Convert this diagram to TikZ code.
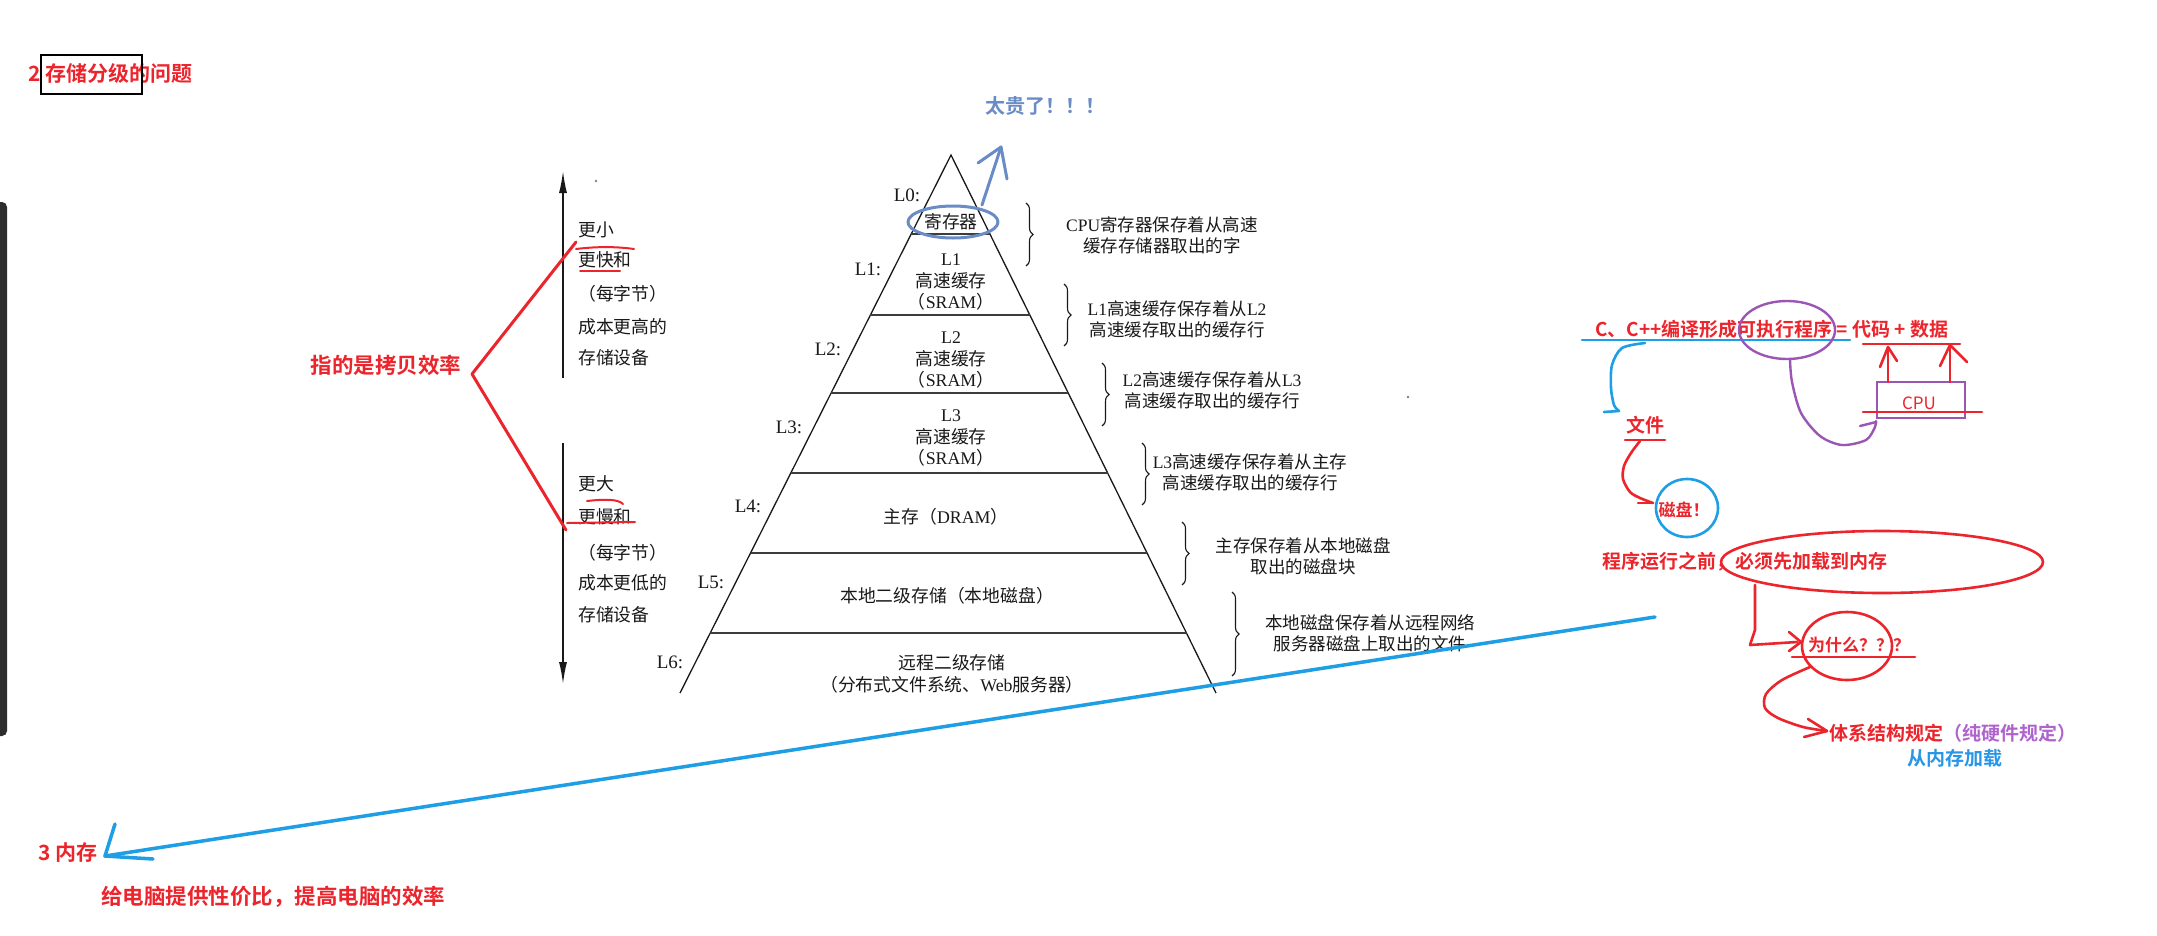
\documentclass[tikz,border=0pt]{standalone}
\usepackage{fontspec}
\usetikzlibrary{decorations.pathreplacing,arrows.meta}
\newfontfamily\hwr{Noto Sans CJK SC}
\newfontfamily\hwb{Noto Sans CJK SC Bold}
\newfontfamily\bkf{Noto Sans CJK SC}
\newfontfamily\ltf{Liberation Serif}
\newcommand{\lt}[1]{{\ltf #1}}
\definecolor{hred}{RGB}{236,36,44}
\definecolor{hblue}{RGB}{30,158,228}
\definecolor{tblue}{RGB}{40,150,230}
\definecolor{sblue}{RGB}{105,140,198}
\definecolor{hpurple}{RGB}{155,85,180}
\definecolor{lpurple}{RGB}{175,100,205}
\definecolor{ink}{RGB}{25,25,25}
\definecolor{barc}{RGB}{45,45,45}
\tikzset{
  booktxt/.style={font=\bkf\fontsize{17.8}{21.5}\selectfont, text=ink, inner sep=0pt},
  desc/.style={font=\bkf\fontsize{17.5}{21}\selectfont, text=ink, inner sep=0pt, align=center},
  lvl/.style={font=\ltf\fontsize{19}{19}\selectfont, text=ink, inner sep=0pt},
  handtxt/.style={font=\hwb\fontsize{#1}{#1}\selectfont, text=hred, inner sep=0pt},
  redpen/.style={draw=hred, line width=2.6pt, line cap=round, line join=round},
  bluepen/.style={draw=hblue, line width=2.6pt, line cap=round, line join=round},
  purplepen/.style={draw=hpurple, line width=2.4pt, line cap=round, line join=round},
  steelpen/.style={draw=sblue, line width=3pt, line cap=round, line join=round},
  pyr/.style={draw=ink, line width=1.3pt},
  sepline/.style={draw=ink!85, line width=1.8pt},
  bracestyle/.style={draw=ink, line width=1.1pt, decorate, decoration={brace, amplitude=7pt}},
  scalearrow/.style={draw=ink, line width=1.5pt, -{Latex[length=22pt,width=8pt]}},
  cpubox/.style={draw=hpurple, line width=2.4pt, minimum width=88pt, minimum height=36pt, inner sep=0pt},
}
\begin{document}
\begin{tikzpicture}[x=1pt,y=-1pt]
\useasboundingbox (0,0) rectangle (2157,935);
\fill[white] (0,0) rectangle (2157,935);
% left dark bar
\fill[barc, rounded corners=5pt] (-12,202) rectangle (7,736);

% title
\node[handtxt=21, anchor=west] (title) at (28,73) {2 存储分级的问题};
\draw[line width=2.5pt] (41,55) rectangle (142,94);

% pyramid
\coordinate (apex) at (951,155);
\coordinate (bl) at (680,693);
\coordinate (br) at (1216,693);
\draw[pyr] (bl) -- (apex) -- (br);
\draw[sepline] (911.2,234) -- (989.9,234);
\draw[sepline] (870.4,315) -- (1029.8,315);
\draw[sepline] (831.1,393) -- (1068.2,393);
\draw[sepline] (790.8,473) -- (1107.6,473);
\draw[sepline] (750.5,553) -- (1147.1,553);
\draw[sepline] (710.2,633) -- (1186.5,633);

\node[booktxt] (reg) at (951,222) {寄存器};
\node[booktxt, align=center] (l1) at (951,282) {\lt{L1}\\高速缓存\\（\lt{SRAM}）};
\node[booktxt, align=center] (l2) at (951,360) {\lt{L2}\\高速缓存\\（\lt{SRAM}）};
\node[booktxt, align=center] (l3) at (951,438) {\lt{L3}\\高速缓存\\（\lt{SRAM}）};
\node[booktxt] (l4) at (946,517) {主存（\lt{DRAM}）};
\node[booktxt] (l5) at (947,596) {本地二级存储（本地磁盘）};
\node[booktxt, align=center] (l6) at (952,674) {远程二级存储\\（分布式文件系统、\lt{Web}服务器）};

\node[lvl] (L0) at (907,195) {L0:};
\node[lvl] (L1) at (868,269) {L1:};
\node[lvl] (L2) at (828,349) {L2:};
\node[lvl] (L3) at (789,427) {L3:};
\node[lvl] (L4) at (748,506) {L4:};
\node[lvl] (L5) at (711,582) {L5:};
\node[lvl] (L6) at (670,662) {L6:};

% braces
\draw[bracestyle] (1026,203) -- (1026,266);
\draw[bracestyle] (1064,284) -- (1064,346);
\draw[bracestyle] (1102,363) -- (1102,426);
\draw[bracestyle] (1142,443) -- (1142,505);
\draw[bracestyle] (1182,522) -- (1182,585);
\draw[bracestyle] (1232,592) -- (1232,676);

\node[desc] (d0) at (1162,235) {\lt{CPU}寄存器保存着从高速\\缓存存储器取出的字};
\node[desc] (d1) at (1177,319) {\lt{L1}高速缓存保存着从\lt{L2}\\高速缓存取出的缓存行};
\node[desc] (d2) at (1212,390) {\lt{L2}高速缓存保存着从\lt{L3}\\高速缓存取出的缓存行};
\node[desc] (d3) at (1250,472) {\lt{L3}高速缓存保存着从主存\\高速缓存取出的缓存行};
\node[desc] (d4) at (1303,556) {主存保存着从本地磁盘\\取出的磁盘块};
\node[desc] (d5) at (1370,633) {本地磁盘保存着从远程网络\\服务器磁盘上取出的文件};

% scale arrows
\coordinate (upB) at (563,378);
\coordinate (upT) at (563,171);
\coordinate (dnT) at (563,443);
\coordinate (dnB) at (563,684);
\draw[scalearrow] (upB) -- (upT);
\draw[scalearrow] (dnT) -- (dnB);
\node[booktxt, anchor=west] (s1) at (578,230) {更小};
\node[booktxt, anchor=west] (s2) at (578,260) {更快和};
\node[booktxt, anchor=west] (s3) at (578,294) {（每字节）};
\node[booktxt, anchor=west] (s4) at (578,327) {成本更高的};
\node[booktxt, anchor=west] (s5) at (578,358) {存储设备};
\node[booktxt, anchor=west] (t1) at (578,484) {更大};
\node[booktxt, anchor=west] (t2) at (578,517) {更慢和};
\node[booktxt, anchor=west] (t3) at (578,553) {（每字节）};
\node[booktxt, anchor=west] (t4) at (578,583) {成本更低的};
\node[booktxt, anchor=west] (t5) at (578,615) {存储设备};
\fill[ink!55] (596,181) circle (1.3);
\fill[ink!55] (1408,397) circle (1.3);

% red V annotation
\node[handtxt=21.5] (copy) at (386,365) {指的是拷贝效率};
\coordinate (vtx) at (472,374);
\coordinate (vU) at (576,242);
\coordinate (vL) at (566,530);
\draw[redpen, line width=3pt] (vU) -- (vtx) -- (vL);
\draw[redpen, line width=2pt] (576,249) .. controls (600,246) and (620,247) .. (634,249);
\draw[redpen, line width=2pt] (580,271) -- (620,271);
\draw[redpen, line width=2pt] (587,501) .. controls (605,499) and (618,499) .. (623,504);
\draw[redpen, line width=2pt] (567,523) -- (635,522);

% steel blue note
\draw[steelpen] (953,222) ellipse (45 and 16);
\coordinate (tgS) at (982,205);
\coordinate (tgT) at (1001,147);
\draw[steelpen] (tgS) -- (tgT);
\draw[steelpen] (978,163) -- (tgT) -- (1007,179);
\node[handtxt=20, text=sblue] (expensive) at (1045,106) {太贵了！！！};

% right annotations
\node[handtxt=19, anchor=west] (cc) at (1595,329) {C、C++编译形成可执行程序 = 代码 + 数据};
\draw[bluepen] (1582,340) -- (1850,340);
\draw[purplepen] (1787,330) ellipse (48 and 29);
\draw[redpen] (1863,344) -- (1960,344);
\node[cpubox] (cpu) at (1921,400) {};
\node[font=\hwr\fontsize{17}{17}\selectfont, text=hred, inner sep=0pt] (cputxt) at (1919,403) {CPU};
\draw[redpen] (1863,412) -- (1982,412);
\coordinate (a1b) at (1888,382);
\coordinate (a1t) at (1888,347);
\draw[redpen] (a1b) -- (a1t);
\draw[redpen] (1880,367) -- (a1t) -- (1897,361);
\coordinate (a2b) at (1950,382);
\coordinate (a2t) at (1950,345);
\draw[redpen] (a2b) -- (a2t);
\draw[redpen] (1940,366) -- (a2t) -- (1967,362);
\draw[purplepen] plot[smooth] coordinates {(1790,360) (1792,382) (1801,413) (1820,436) (1842,445) (1866,440) (1875,427) (1876,421)};
\draw[purplepen] (1860,426) -- (1876,422);

\draw[bluepen] plot[smooth] coordinates {(1645,343) (1622,348) (1612,365) (1611,388) (1614,405) (1619,411)};
\draw[bluepen] (1604,412) -- (1619,411);
\node[handtxt=19] (file) at (1645,425) {文件};
\draw[redpen] (1625,440) -- (1665,440);
\draw[redpen] plot[smooth] coordinates {(1640,441) (1631,453) (1624,466) (1623,479) (1630,492) (1640,498) (1653,503)};
\draw[redpen] (1638,503) -- (1653,503);
\draw[bluepen] (1687,508) ellipse (31 and 29);
\node[handtxt=17] (disk) at (1684,510) {磁盘！};

\node[handtxt=19, anchor=west] (before) at (1602,562) {程序运行之前，必须先加载到内存};
\draw[redpen] (1882,562) ellipse (161 and 31);
\draw[redpen] (1755,585) -- (1755,630) -- (1750,645) -- (1797,642);
\draw[redpen] (1789,632) -- (1801,642) -- (1789,651);
\node[handtxt=17, anchor=west] (why) at (1808,645) {为什么？？？};
\draw[redpen] (1792,657) -- (1915,657);
\draw[redpen] (1847,646) ellipse (45 and 34);
\draw[redpen] plot[smooth] coordinates {(1810,667) (1782,680) (1766,694) (1765,708) (1778,718) (1803,727) (1827,731)};
\draw[redpen] (1808,719) -- (1827,731) -- (1804,737);
\node[handtxt=19, anchor=west] (arch) at (1829,733) {体系结构规定\textcolor{lpurple}{（纯硬件规定）}};
\node[handtxt=19, text=tblue] (frommem) at (1955,758) {从内存加载};

% long blue arrow
\coordinate (lstart) at (1655,617);
\coordinate (ltip) at (105,856);
\draw[bluepen, line width=3.5pt] (lstart) -- (ltip);
\draw[bluepen, line width=3.5pt] (115,824) -- (ltip) -- (153,859);
\node[handtxt=21, anchor=west] (mem) at (38,853) {3 内存};
\node[handtxt=21.5, anchor=west] (give) at (101,897) {给电脑提供性价比，提高电脑的效率};
\end{tikzpicture}
\end{document}
